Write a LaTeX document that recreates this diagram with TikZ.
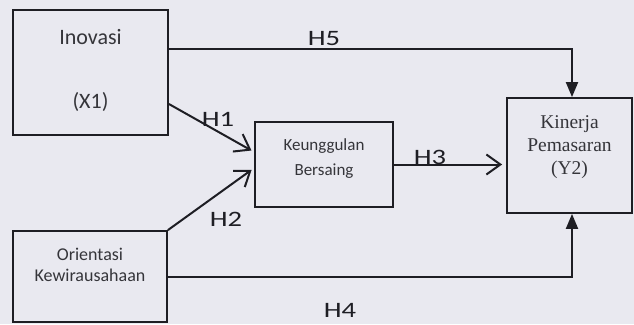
\documentclass[tikz,border=0pt]{standalone}
\usepackage{fontspec}
\setmainfont{Carlito}
\newfontfamily\kinfont{Liberation Serif}
\usepackage{graphicx}
\usepackage{tikz}
\usetikzlibrary{arrows.meta}

\definecolor{paper}{RGB}{233,233,240}
\definecolor{ink}{RGB}{30,30,36}
\newcommand{\hlabel}[1]{\scalebox{1.3}[1]{#1}}

\begin{document}
\begin{tikzpicture}[x=1pt,y=-1pt,
  box/.style={draw=ink, line width=1.8pt, align=center, text=ink!90, inner sep=0pt},
  barb/.style={draw=ink, line width=2pt, -{Straight Barb[length=14pt,width=20pt,line width=2pt]}},
  tri/.style={draw=ink, line width=2pt, -{Triangle[length=15pt,width=12pt]}},
  hlab/.style={text=ink, font=\fontsize{22}{26}\selectfont}]

\fill[paper] (0,0) rectangle (634,324);
\useasboundingbox (0,0) rectangle (634,324);

\node[box, minimum width=155pt, minimum height=125pt, text depth=8pt,
      font=\fontsize{22}{26}\selectfont] (inov) at (90.5,72.5) {Inovasi\\[38pt](X1)};
\node[box, minimum width=154pt, minimum height=91pt, text depth=23pt,
      font=\fontsize{18}{21}\selectfont] (ori) at (90,276.5) {Orientasi\\Kewirausahaan};
\node[box, minimum width=138pt, minimum height=85pt, text depth=15pt,
      font=\fontsize{17}{25}\selectfont] (keu) at (324,164.5) {Keunggulan\\Bersaing};
\node[box, minimum width=125pt, minimum height=115pt, text depth=20pt,
      font=\kinfont\fontsize{19.5}{23}\selectfont] (kin) at (569.5,155.5) {Kinerja\\Pemasaran\\(Y2)};

\coordinate (t5) at (572,49);
\coordinate (t4) at (572,277);

\draw[barb, shorten >=3pt] ([yshift=-31.5pt]inov.east) -- ([yshift=12.5pt]keu.west);
\draw[barb, shorten >=3pt] (ori.north east) -- ([yshift=-3.5pt]keu.west);
\draw[barb, shorten >=4pt] (keu.east) -- (kin.west |- keu.east);
\draw[tri] (ori.east |- t4) -- (t4) -- (kin.south -| t4);
\draw[tri] (inov.east |- t5) -- (t5) -- (kin.north -| t5);

\foreach \i/\x/\y in {1/218/119, 2/226/219, 3/430/157, 4/340/310, 5/324/39}
    \node[hlab] (h\i) at (\x,\y) {\hlabel{H\i}};

\end{tikzpicture}
\end{document}
